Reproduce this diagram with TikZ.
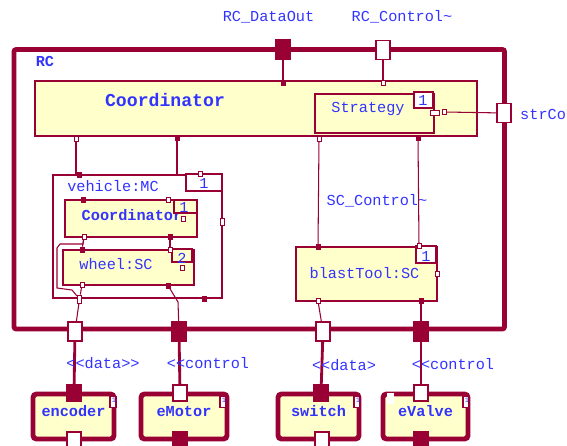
\documentclass[tikz,border=0pt]{standalone}
\usepackage{fontspec}
\newfontfamily\umlfont{Liberation Mono}
\usetikzlibrary{fit,calc}
\definecolor{umlred}{HTML}{990033}
\definecolor{umlblue}{HTML}{3333FF}
\definecolor{umlyel}{HTML}{FFFFCC}
\tikzset{
  txt/.style={text=umlblue,inner sep=0pt,font=\umlfont\fontsize{13}{15}\selectfont},
  btxt/.style={txt,font=\umlfont\bfseries\fontsize{13}{15}\selectfont},
  frame/.style={draw=umlred,line width=4.2pt,rounded corners=2pt,inner sep=0pt},
  vbox/.style={draw=umlred,fill=white,line width=2.5pt,inner sep=0pt},
  part/.style={draw=umlred,fill=umlyel,line width=0.9pt,inner sep=0pt},
  comp/.style={part,line width=4.2pt,rounded corners=3pt},
  multbox/.style={draw=umlred,fill=white,line width=0.9pt,inner sep=0pt},
  bigport/.style={draw=umlred,fill=white,line width=1pt,minimum width=0.42cm,minimum height=0.57cm,inner sep=0pt},
  bigportf/.style={bigport,fill=umlred},
  smport/.style={draw=umlred,fill=white,line width=0.7pt,minimum width=0.12cm,minimum height=0.15cm,inner sep=0pt},
  smportf/.style={smport,fill=umlred},
  wire/.style={draw=umlred,line width=0.9pt},
  bwire/.style={draw=umlred,line width=2.4pt}
}
\begin{document}
\begin{tikzpicture}[x=0.03cm,y=-0.03cm]
\useasboundingbox (0,0) rectangle (567,445);
% RC frame and its parts
\node[frame,fit={(14,49.5) (504.5,329)}] (rc) {};
\node[btxt] (lRC) at (45,61) {RC};
\node[part,fit={(35,81) (477,136)}] (coord) {};
\node[btxt,font=\umlfont\bfseries\fontsize{15.5}{17}\selectfont] (lCoord) at (165,100) {Coordinator};
\node[part,fit={(315,94) (434,133)}] (strat) {};
\node[txt] (lStrat) at (368,109) {Strategy};
\node[multbox,fit={(414,92) (433,108)}] (mStrat) {};
\node[txt] at (423,100) {1};
% vehicle
\node[vbox,fit={(53,175) (222,298)}] (veh) {};
\node[txt] (lVeh) at (113,186) {vehicle:MC};
\node[multbox,fit={(186,174) (222,191)}] (mVeh) {};
\node[txt] at (204,183) {1};
\node[part,fit={(65,200) (197,237)}] (icoord) {};
\node[btxt] (lIcoord) at (132,215) {Coordinator};
\node[part,fit={(174,200) (197,213)}] (mIcoord) {};
\node[txt] at (184,207) {1};
\node[part,fit={(63,250) (194,285)}] (wheel) {};
\node[txt] (lWheel) at (116,264) {wheel:SC};
\node[part,fit={(172,249) (192,262)}] (mWheel) {};
\node[txt] at (182,258) {2};
% blast tool
\node[part,fit={(296,247) (437,301)}] (blast) {};
\node[txt] (lBlast) at (364.5,273) {blastTool:SC};
\node[multbox,fit={(416,246) (436,263)}] (mBlast) {};
\node[txt] at (426,256) {1};
\node[txt] (lSC) at (377,201) {SC\_Control\textasciitilde};
% outer ports
\node[bigportf] (rcDout) at (283,49.5) {};
\node[bigport] (rcCtl) at (383,50) {};
\node[bigport] (rcStr) at (504,113) {};
\node[bigport] (rcB1) at (75,331.5) {};
\node[bigportf] (rcB2) at (179,331.5) {};
\node[bigport] (rcB3) at (323,331.5) {};
\node[bigportf] (rcB4) at (421,331.5) {};
\node[txt] (lDout) at (268.5,17.5) {RC\_DataOut};
\node[txt] (lCtl) at (402,17) {RC\_Control\textasciitilde};
\node[txt,anchor=west] (lStr) at (520,114) {strCo};
% small ports
\node[smportf] (cdT1) at (283,83) {};
\node[smport] (cdT2) at (383,83) {};
\node[smport] (cdB1) at (76,138.5) {};
\node[smportf] (cdB2) at (177,138) {};
\node[smport] (cdB3) at (319,139) {};
\node[smportf] (cdB4) at (418,138) {};
\node[smport,minimum width=0.27cm] (stR) at (434.5,112.5) {};
\node[smport] (cdR) at (444.5,112) {};
\node[smportf] (vehT1) at (79.5,175) {};
\coordinate (vehT2) at (177,175);
\node[smport] (vehT3) at (200,173.5) {};
\node[smport,minimum height=0.21cm] (vehR) at (222,221.5) {};
\node[smport,minimum height=0.24cm] (vehB1) at (79.5,299) {};
\node[smportf] (vehB2) at (204,298.5) {};
\node[smportf] (icT1) at (83,200) {};
\node[smport] (icT2) at (168,200) {};
\node[smport] (icB1) at (84,237) {};
\node[smportf] (icB2) at (170,237) {};
\node[smport] (icIn) at (183,219) {};
\node[smportf] (whT1) at (82,249.5) {};
\node[smport] (whT2) at (170,249.5) {};
\node[smport] (whB1) at (82,285) {};
\node[smportf] (whB2) at (168,285.5) {};
\node[smport] (whIn) at (182,268) {};
\node[smportf] (btT1) at (318,247) {};
\node[smport] (btT2) at (419,246) {};
\node[smport] (btR) at (437,274) {};
\node[smport] (btB1) at (318,301) {};
\node[smportf] (btB2) at (421,301) {};
% inner wires
\draw[wire] (rcDout) -- (cdT1);
\draw[wire] (rcCtl) -- (cdT2);
\draw[wire] (cdR) -- (rcStr);
\draw[wire] (cdB1) -- (76,175);
\draw[wire] (cdB2) -- (vehT2);
\draw[wire] (cdB3) -- (btT1);
\draw[wire] (cdB4) -- (btT2);
\draw[wire] (icB1) -- (whT1);
\draw[wire] (icB2) -- (whT2);
\draw[wire] (icB1) -- (83,244) -- (60,244) -- (57,248) -- (57,288) -- (72,290) -- (vehB1);
\draw[wire] (whB1) -- (vehB1);
\draw[wire] (whB2) -- (178,302) -- (rcB2);
\draw[wire] (vehB1) -- (rcB1);
\draw[wire] (btB1) -- (rcB3);
\draw[wire] (btB2) -- (rcB4);
% devices
\foreach \name/\xa/\xb/\txt in {enc/33/114/encoder,mot/141/227/eMotor,sw/278/359/switch,val/383/468/eValve}{
  \node[comp,fit={(\xa,394) (\xb,439)}] (\name) {};
  \node[btxt] (l\name) at ($(\name.center)+(0,-5.5)$) {\txt};
}
\fill[white] (387,393) rectangle (394,404);
\foreach \xr in {113,223,357,466}{
  \node[multbox,minimum width=0.18cm,minimum height=0.33cm] (m\xr) at (\xr,402) {};
  \node[txt,font=\umlfont\fontsize{6}{7}\selectfont] at (\xr+1,400) {1};
}
\node[bigportf,minimum height=0.48cm] (encT) at (74,393) {};
\node[bigport,minimum height=0.48cm] (encB) at (74,440) {};
\node[bigport,minimum height=0.48cm] (motT) at (180,393) {};
\node[bigportf,minimum height=0.48cm] (motB) at (180,440) {};
\node[bigportf,minimum height=0.48cm] (swT) at (321,393) {};
\node[bigport,minimum height=0.48cm] (swB) at (322,440) {};
\node[bigport,minimum height=0.48cm] (valT) at (421,393) {};
\node[bigportf,minimum height=0.48cm] (valB) at (421,440) {};
\draw[bwire] (rcB1) -- (encT);
\draw[bwire] (rcB2) -- (motT);
\draw[bwire] (rcB3) -- (swT);
\draw[bwire] (rcB4) -- (valT);
\node[txt] (lD1) at (103,363) {<\kern0pt<data>\kern0pt>};
\node[txt] (lC1) at (208,363) {<\kern0pt<control};
\node[txt] (lD2) at (344,365) {<\kern0pt<data>};
\node[txt] (lC2) at (453,364) {<\kern0pt<control};
\end{tikzpicture}
\end{document}
